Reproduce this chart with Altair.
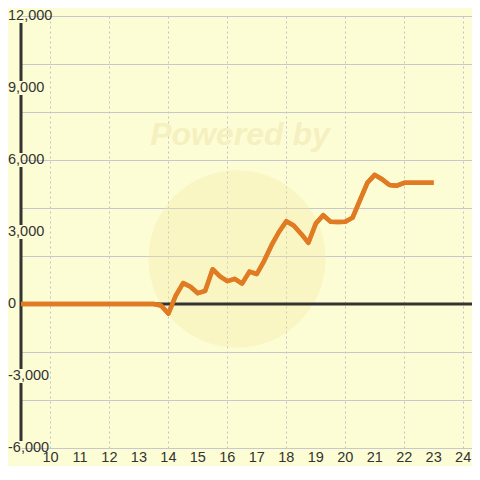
import altair as alt
import pandas as pd

# ---- data ----
hours = [9.0, 13.5, 13.75, 14.0, 14.25, 14.5, 14.75, 15.0, 15.25, 15.5, 15.75,
         16.0, 16.25, 16.5, 16.75, 17.0, 17.25, 17.5, 17.75, 18.0, 18.25, 18.5,
         18.75, 19.0, 19.25, 19.5, 19.75, 20.0, 20.25, 20.5, 20.75, 21.0, 21.25,
         21.5, 21.75, 22.0, 23.0]
values = [0, 0, -60, -400, 350, 870, 720, 450, 550, 1450, 1150,
          950, 1050, 850, 1350, 1250, 1800, 2450, 3000, 3450, 3270, 2930,
          2550, 3350, 3700, 3430, 3420, 3430, 3600, 4330, 5050, 5380, 5200,
          4960, 4930, 5050, 5050]
x_ticks = [10, 11, 12, 13, 14, 15, 16, 17, 18, 19, 20, 21, 22, 23, 24]
x_tick_texts = ["10", "11", "12", "13", "14", "15", "16", "17", "18", "19",
                "20", "21", "22", "23", "24"]
y_grid = [-6000, -5000, -4000, -3000, -2000, -1000, 0, 1000, 2000, 3000,
          4000, 5000, 6000, 7000, 8000, 9000, 10000, 11000, 12000]
y_label_values = [-6000, -3000, 0, 3000, 6000, 9000, 12000]
y_label_texts = ["-6,000", "-3,000", "0", "3,000", "6,000", "9,000", "12,000"]
watermark = "Powered by"

df = pd.DataFrame({"hour": hours, "value": values})
ylab = pd.DataFrame({"v": y_label_values, "t": y_label_texts})
xlab = pd.DataFrame({"h": x_ticks, "t": x_tick_texts})
one = pd.DataFrame({"k": [0]})

BG = "#fdfdd5"
FONT = "Liberation Sans"
xs = alt.Scale(domain=[9, 24.3], nice=False, zero=False)
ys = alt.Scale(domain=[-6000, 12000], nice=False, zero=False)

x_axis = alt.Axis(values=x_ticks, grid=True, gridDash=[2, 3], gridColor="#c2c2c2",
                  gridWidth=1, domain=False, ticks=False, labels=False, title=None)
y_axis = alt.Axis(values=y_grid, grid=True, gridColor="#c8c8cc", gridWidth=1,
                  domain=False, ticks=False, labels=False, title=None)

line = alt.Chart(df).mark_line(color="#e07b24", strokeWidth=4.5,
                               strokeJoin="round", strokeCap="butt").encode(
    x=alt.X("hour:Q", scale=xs, axis=x_axis),
    y=alt.Y("value:Q", scale=ys, axis=y_axis),
)

circle = alt.Chart(one).mark_circle(size=31400, color="#f3e9a0", opacity=0.3).encode(
    x=alt.value(216), y=alt.value(243))

wm_text = alt.Chart(one).mark_text(text=watermark, font=FONT, fontSize=32,
                                   fontWeight="bold", fontStyle="italic",
                                   color="#f5f0c0", baseline="alphabetic",
                                   align="center").encode(
    x=alt.value(219), y=alt.value(129))

zero_rule = alt.Chart(one).mark_rule(color="#333333", strokeWidth=3).encode(
    y=alt.Y(datum=0))

y_rule = alt.Chart(one).mark_rule(color="#333333", strokeWidth=3,
                                  strokeDash=[0, 7, 58, 14, 58, 14, 58, 14, 130, 14, 58, 7]).encode(
    x=alt.X(datum=9), y=alt.Y(datum=12000), y2=alt.Y2(datum=-6000))

y_labels = alt.Chart(ylab).mark_text(align="left", baseline="middle", font=FONT,
                                     fontSize=14.5, color="#333333").encode(
    x=alt.value(-13), y=alt.Y("v:Q"), text="t:N")

x_labels = alt.Chart(xlab).mark_text(align="center", baseline="middle", font=FONT,
                                     fontSize=14.5, color="#333333").encode(
    x=alt.X("h:Q"), y=alt.value(442), text="t:N")

chart = alt.layer(line, circle, wm_text, zero_rule, y_rule, y_labels, x_labels, line).properties(
    width=451, height=432,
    background=BG,
    autosize=alt.AutoSizeParams(type="none"),
    padding={"left": 13, "top": 8, "right": 0, "bottom": 18},
).configure_view(stroke=None)

chart.save("out.html", embed_options={"renderer": "svg", "actions": False})
